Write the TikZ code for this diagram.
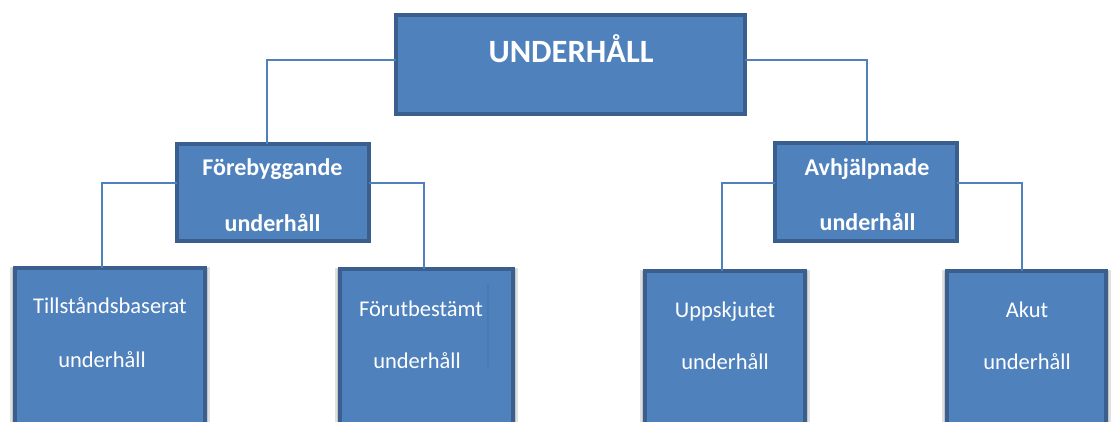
\documentclass[tikz,border=0pt]{standalone}
\usepackage{fontspec}
\setmainfont{Carlito}
\definecolor{fillb}{HTML}{4F81BD}
\definecolor{edgeb}{HTML}{3A5F8E}
\definecolor{lineb}{HTML}{4F81BD}
\begin{document}
\begin{tikzpicture}[x=1pt,y=-1pt,
  box/.style={draw=edgeb, fill=fillb, line width=4pt, inner sep=0pt, outer sep=0pt},
  shade/.style={fill=black, opacity=0.12, draw=none, inner sep=0pt},
  conn/.style={draw=lineb, line width=1.7pt},
  big/.style={text=white, inner sep=0pt, font=\bfseries\fontsize{32.5}{36}\selectfont},
  mid/.style={text=white, inner sep=0pt, font=\bfseries\fontsize{24}{28}\selectfont},
  low/.style={text=white, inner sep=0pt, font=\fontsize{22.5}{27}\selectfont}]
\useasboundingbox (0,0) rectangle (1112,421);
\clip (0,0) rectangle (1112,421);
\fill[white] (0,0) rectangle (1112,421);
% shadows
\foreach \cx/\cy/\w/\h in {110/354/190/172, 426.5/354.5/173/171, 725/355.5/160/169, 1026.5/355.5/159/169}{
  \node[shade, minimum width=\w pt+10pt, minimum height=\h pt+6pt] at (\cx,\cy+2) {};
  \node[shade, minimum width=\w pt+6pt, minimum height=\h pt+3pt] at (\cx,\cy+1) {};
}
% boxes
\node[box, minimum width=349pt, minimum height=99pt] (top) at (570.5,64.5) {};
\node[box, minimum width=192pt, minimum height=97pt] (fore) at (273,192.5) {};
\node[box, minimum width=182pt, minimum height=98pt] (avhj) at (866,192) {};
\node[box, minimum width=190pt, minimum height=172pt] (till) at (110,354) {};
\node[box, minimum width=173pt, minimum height=171pt] (forut) at (426.5,354.5) {};
\node[box, minimum width=160pt, minimum height=169pt] (upps) at (725,355.5) {};
\node[box, minimum width=159pt, minimum height=169pt] (akut) at (1026.5,355.5) {};
% faint artifact line
\draw[edgeb, opacity=0.2, line width=1.5pt] (488,283) -- (488,367);
% connectors
\draw[conn] ([yshift=4.5pt]top.west) -| ([xshift=-6pt]fore.north);
\draw[conn] ([yshift=4.5pt]top.east) -| ([xshift=1pt]avhj.north);
\draw[conn] ([yshift=9.5pt]fore.west) -| ([xshift=-8pt]till.north);
\draw[conn] ([yshift=9.5pt]fore.east) -| ([xshift=-2.5pt]forut.north);
\draw[conn] ([yshift=9pt]avhj.west) -| ([xshift=-3pt]upps.north);
\draw[conn] ([yshift=9pt]avhj.east) -| ([xshift=-4.5pt]akut.north);
% texts
\node[big, anchor=base] (t0) at (571,62) {UNDERHÅLL};
\node[mid, anchor=base] (t1a) at (272.5,175) {Förebyggande};
\node[mid, anchor=base] (t1b) at (272.5,231) {underhåll};
\node[mid, anchor=base] (t2a) at (867,175) {Avhjälpnade};
\node[mid, anchor=base] (t2b) at (867.5,230) {underhåll};
\node[low, anchor=base] (t3a) at (110,313) {Tillståndsbaserat};
\node[low, anchor=base] (t3b) at (102,367) {underhåll};
\node[low, anchor=base] (t4a) at (421,316) {Förutbestämt};
\node[low, anchor=base] (t4b) at (417,368) {underhåll};
\node[low, anchor=base] (t5a) at (725,317) {Uppskjutet};
\node[low, anchor=base] (t5b) at (725,369) {underhåll};
\node[low, anchor=base] (t6a) at (1027,317) {Akut};
\node[low, anchor=base] (t6b) at (1027,369) {underhåll};
\end{tikzpicture}
\end{document}
